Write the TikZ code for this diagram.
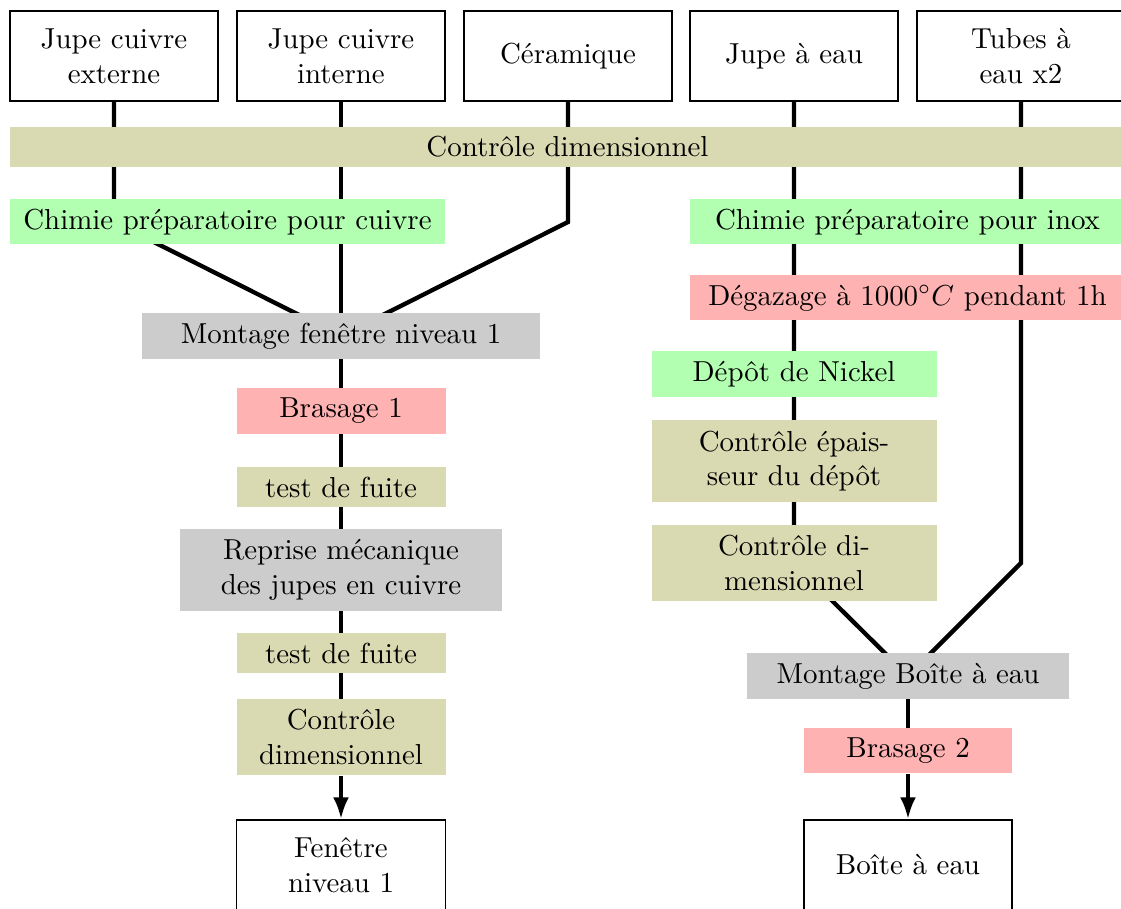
\documentclass[tikz,border=0pt]{standalone}
\usetikzlibrary{backgrounds,arrows.meta}
\definecolor{ctrlc}{RGB}{217,217,178}
\definecolor{chemc}{RGB}{178,255,178}
\definecolor{heatc}{RGB}{255,178,178}
\definecolor{asmc}{RGB}{204,204,204}
\begin{document}
\begin{tikzpicture}[x=0.346pt,y=-0.346pt,
  part/.style={draw, align=center, minimum width=208*0.346pt, minimum height=90*0.346pt},
  wpx/.style={minimum width=#1*0.346pt},
  hpx/.style={minimum height=#1*0.346pt},
  stage/.style={align=center, inner ysep=0pt},
  ctrl/.style={stage, fill=ctrlc},
  chem/.style={stage, fill=chemc},
  heat/.style={stage, fill=heatc},
  asm/.style={stage, fill=asmc},
  flow/.style={line width=1.5pt},
  tip/.style={flow, -{Latex[length=7.6pt,width=5.5pt]}}]
\useasboundingbox (0,0) rectangle (1121,909);
\clip (0,0) rectangle (1121,909);
% parts
\node[part] (p1) at (114,56) {Jupe cuivre\\externe};
\node[part] (p2) at (341,56) {Jupe cuivre\\interne};
\node[part] (p3) at (568,56) {Céramique};
\node[part] (p4) at (794,56) {Jupe à eau};
\node[part] (p5) at (1021,56) {Tubes à\\eau x2};
% common
\node[ctrl, wpx=1115, hpx=40] (cd) at (567.5,147) {Contrôle dimensionnel};
% left branch
\node[chem, wpx=435, hpx=45] (chc) at (227.5,222) {Chimie préparatoire pour cuivre};
\node[asm, wpx=398, hpx=46] (mf) at (341,336) {Montage fenêtre niveau 1};
\node[heat, wpx=209, hpx=46] (b1) at (341,411) {Brasage 1};
\node[ctrl, wpx=209, hpx=40] (t1) at (341,487) {test de fuite};
\node[asm, wpx=322, hpx=82] (rep) at (341,570) {Reprise mécanique\\des jupes en cuivre};
\node[ctrl, wpx=209, hpx=40] (t2) at (341,653) {test de fuite};
\node[ctrl, wpx=209, hpx=76] (cdl) at (341,737) {Contrôle\\dimensionnel};
\node[part, wpx=209] (fen) at (341,865) {Fenêtre\\niveau 1};
% right branch
\node[chem, wpx=435, hpx=45] (chi) at (907.5,222) {Chimie préparatoire pour inox};
\node[heat, wpx=435, hpx=45] (deg) at (907.5,298) {Dégazage à $1000^\circ C$ pendant 1h};
\node[chem, wpx=285, hpx=46] (nik) at (794,374) {Dépôt de Nickel};
\node[ctrl, wpx=285, hpx=82] (cep) at (794,461) {Contrôle épais-\\seur du dépôt};
\node[ctrl, wpx=285, hpx=76] (cdr) at (794,563) {Contrôle di-\\mensionnel};
\node[asm, wpx=322, hpx=46] (mb) at (908,676) {Montage Boîte à eau};
\node[heat, wpx=208, hpx=45] (b2) at (908,751) {Brasage 2};
\node[part] (boite) at (908,865) {Boîte à eau};
% connectors
\begin{pgfonlayer}{background}
\draw[flow] (p1.south) -- (p1 |- chc) -- (mf.center);
\draw[flow] (p2.south) -- (mf.center);
\draw[flow] (p3.south) -- (p3 |- chc) -- (mf.center);
\draw[flow] (mf.center) -- (b1.center) -- (t1.center) -- (rep.center) -- (t2.center) -- (cdl.center);
\draw[flow] (p4.south) -- (cdr.center) -- (mb.center);
\draw[flow] (p5.south) -- (p5 |- cdr) -- (mb.center);
\draw[flow] (mb.center) -- (b2.center);
\end{pgfonlayer}
\draw[tip] (cdl.south) -- (fen.north);
\draw[tip] (b2.south) -- (boite.north);
\end{tikzpicture}
\end{document}
